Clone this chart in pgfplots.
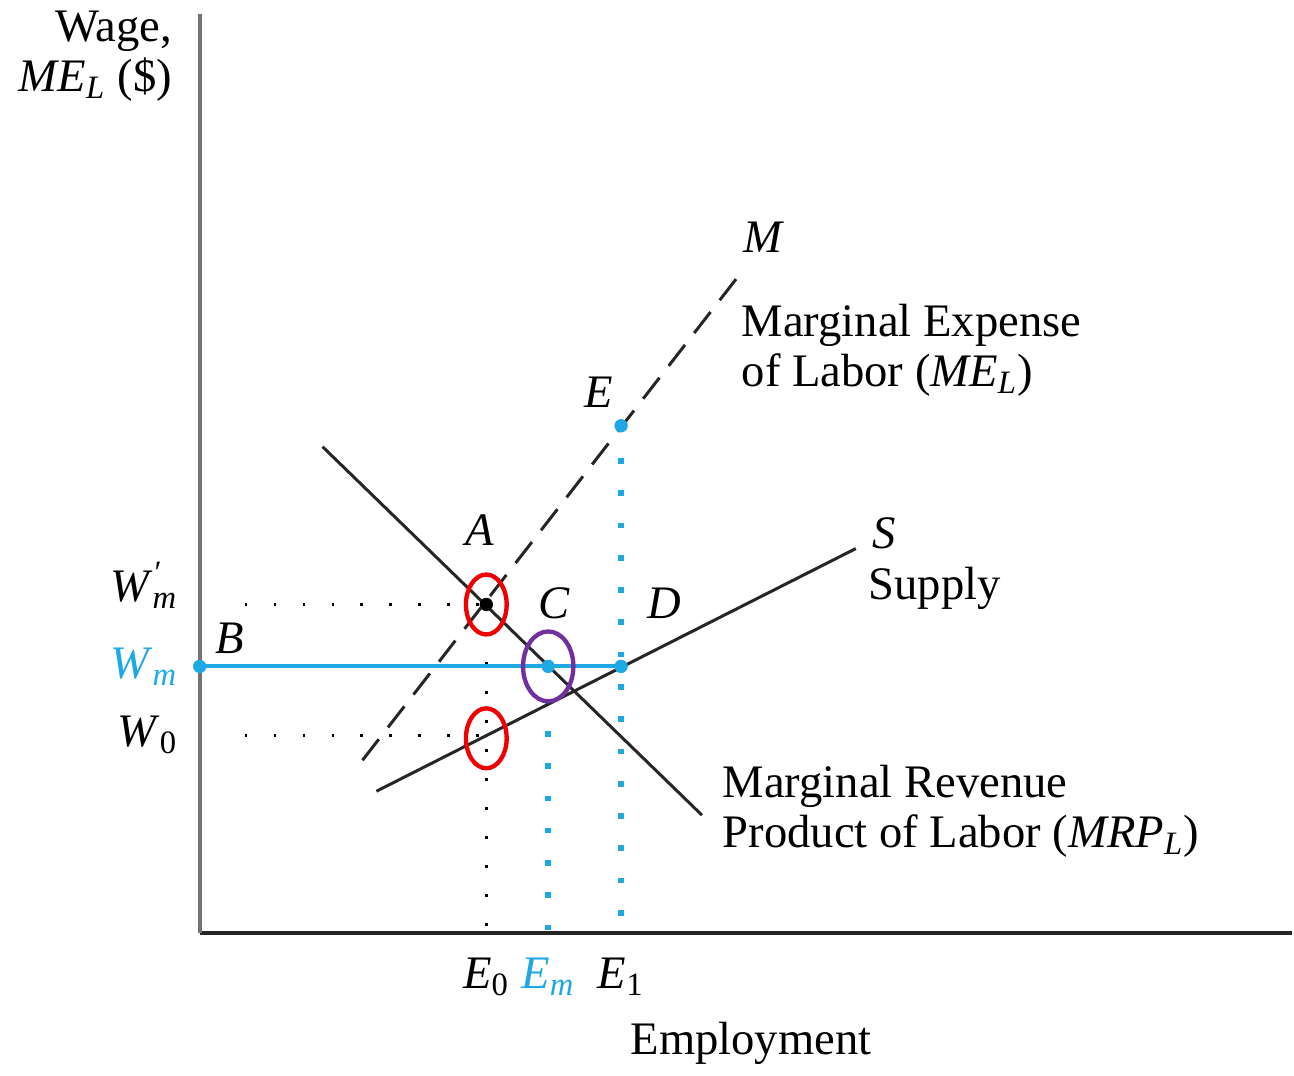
\documentclass[border=0pt]{standalone}
\usepackage{pgfplots}
\pgfplotsset{compat=1.18}
\usepackage{fontspec}
\setmainfont{Liberation Serif}

\definecolor{wblue}{RGB}{30,168,228}
\definecolor{cred}{RGB}{240,0,0}
\definecolor{cpurple}{RGB}{112,48,160}

\newcommand{\Wpm}{\smash{\raisebox{1pt}{\textit{W}\rlap{\textsuperscript{\textit{′}}}\textsubscript{\textit{m}}}}}

\begin{document}
\begin{tikzpicture}[font=\fontsize{14}{15}\selectfont]
\begin{axis}[
    x=0.3pt, y=0.3pt,
    xmin=0, xmax=1094,
    ymin=0, ymax=920,
    axis x line=bottom,
    axis y line=left,
    x axis line style={-, line width=1.1pt, black!85},
    y axis line style={-, line width=1.1pt, black!55},
    clip=false,
    major tick length=0pt,
    xtick={287,349,422},
    xticklabels={{\textit{E}\textsubscript{0}}, {\color{wblue}\textit{E}\textsubscript{\textit{m}}}, {\textit{E}\textsubscript{1}}},
    ytick={198,267,329},
    yticklabels={{\textit{W}\textsubscript{0}}, {\color{wblue}\textit{W}\textsubscript{\textit{m}}}, {\Wpm}},
    every tick label/.append style={font=\fontsize{14}{15}\selectfont},
    xticklabel style={yshift=-4pt},
    yticklabel style={xshift=-3pt},
]
% image frame
\path (axis cs:-200,-131) rectangle (axis cs:1094,930);

% dotted guides
\addplot[black, line width=1pt, dash pattern=on 0.8pt off 7.9pt] coordinates {(45,329) (287,329)};
\addplot[black, line width=1pt, dash pattern=on 0.8pt off 7.9pt] coordinates {(45,198) (287,198)};
\addplot[black, line width=1pt, dash pattern=on 0.8pt off 7.9pt] coordinates {(287,329) (287,0)};
\addplot[wblue, line width=1.7pt, dash pattern=on 1.7pt off 8pt] coordinates {(349,267) (349,0)};
\addplot[wblue, line width=1.7pt, dash pattern=on 1.7pt off 8pt] coordinates {(422,508) (422,0)};

% MRP
\addplot[black!85, line width=0.9pt] coordinates {(123,487) (503,118)};
% Supply
\addplot[black!85, line width=0.9pt] coordinates {(177,142) (657,385)};
% Marginal expense (dashed)
\addplot[black!85, line width=0.9pt, dash pattern=on 8pt off 4.5pt] coordinates {(163,173) (545,665)};
% Minimum wage
\addplot[wblue, line width=1.2pt] coordinates {(0,267) (422,267)};

% points
\addplot[only marks, mark=*, mark size=1.8pt, wblue] coordinates {(0,267) (349,267) (422,267) (422,508)};
\addplot[only marks, mark=*, mark size=1.8pt, black] coordinates {(287,329)};

% highlight circles
\addplot[only marks, mark=o, mark size=9pt, cred, line width=1.3pt, mark options={xscale=0.68}] coordinates {(287,329) (287,195)};
\addplot[only marks, mark=o, mark size=10.5pt, cpurple, line width=1.3pt, mark options={xscale=0.72}] coordinates {(349,267)};

% labels
\node[anchor=east, align=right] at (axis cs:-16,878) {Wage,\\\textit{ME}\textsubscript{\textit{L}} (\$)};
\node at (axis cs:565,697) {\textit{M}};
\node[anchor=west, align=left] at (axis cs:531,584) {Marginal Expense\\of Labor (\textit{ME}\textsubscript{\textit{L}})};
\node at (axis cs:400,542) {\textit{E}};
\node at (axis cs:280,403) {\textit{A}};
\node at (axis cs:355,330) {\textit{C}};
\node at (axis cs:465,330) {\textit{D}};
\node at (axis cs:30,295) {\textit{B}};
\node at (axis cs:685,400) {\textit{S}};
\node[anchor=west] at (axis cs:658,345) {Supply};
\node[anchor=west, align=left] at (axis cs:512,122) {Marginal Revenue\\Product of Labor (\textit{MRP}\textsubscript{\textit{L}})};
\node at (axis cs:552,-110) {Employment};
\end{axis}
\end{tikzpicture}
\end{document}
